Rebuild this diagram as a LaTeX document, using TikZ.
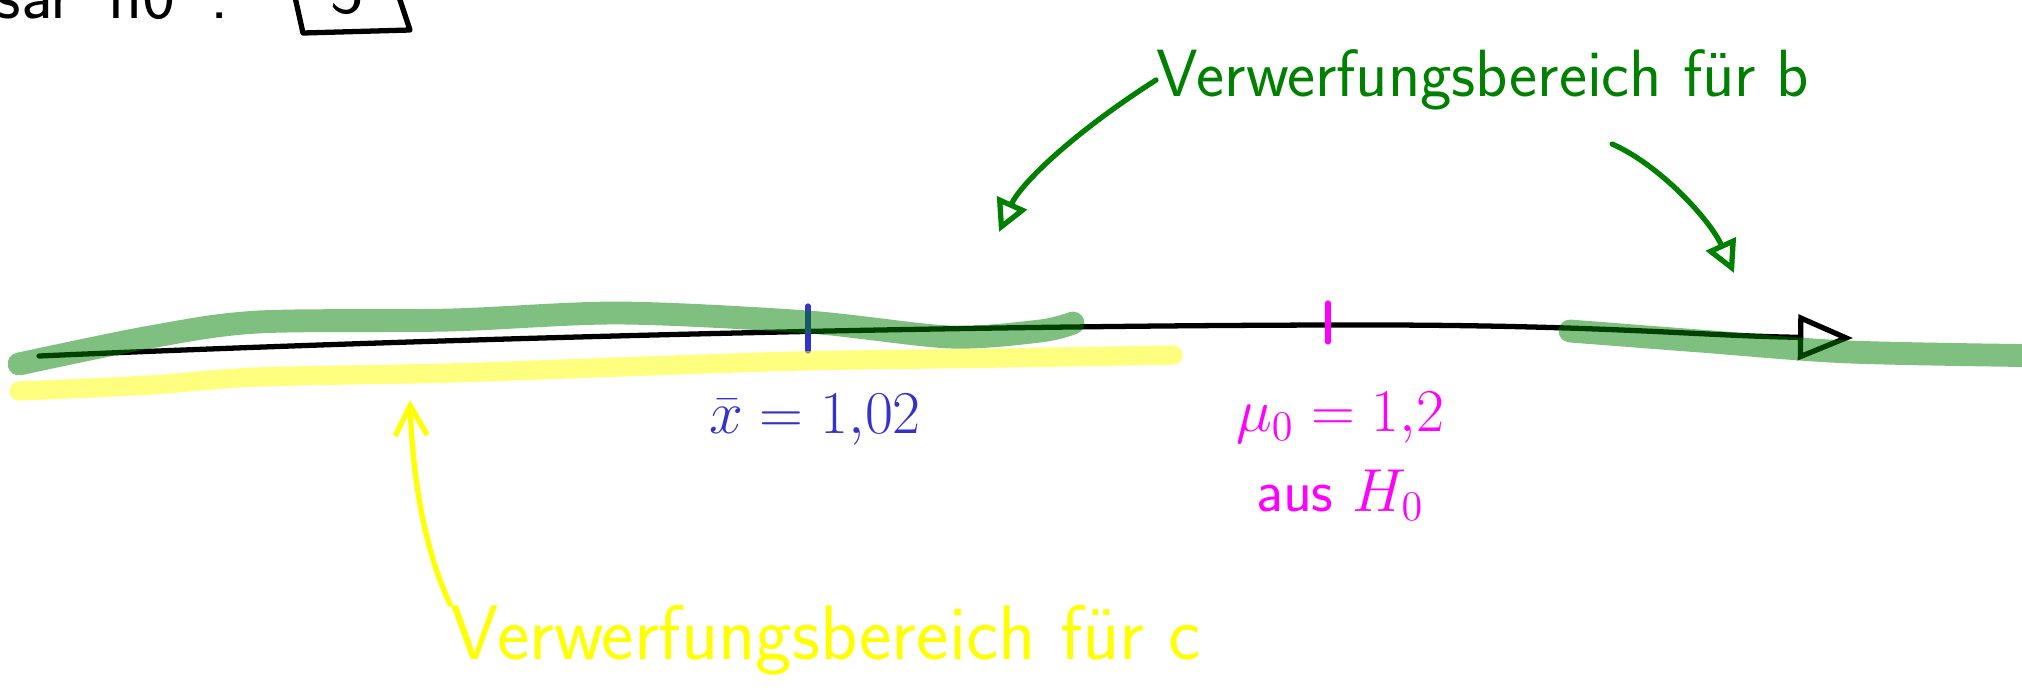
\documentclass[tikz,border=0pt]{standalone}
\usepackage{amsmath,amssymb}
\usepackage{tikz}
\usetikzlibrary{arrows.meta,positioning,calc}
\definecolor{pengreen}{RGB}{0,128,0}
\definecolor{penyellow}{RGB}{255,255,0}
\definecolor{penblue}{RGB}{51,51,204}
\definecolor{penmagenta}{RGB}{255,0,255}
\tikzset{
  pen/.style={line width=1.5pt, line cap=round, line join=round},
  marker/.style={line width=#1, line cap=round, opacity=0.5},
  hand/.style={font=\sffamily\fontsize{20}{22}\selectfont, inner sep=0pt},
  handlabel/.style={font=\sffamily\fontsize{17}{19}\selectfont, inner sep=0pt},
  openhead/.style={-{Triangle[open, length=3.2mm, width=3.2mm, line width=1.5pt]}},
}

\begin{document}
\begin{tikzpicture}[x=0.01cm, y=-0.01cm]
    \useasboundingbox (0,0) rectangle (2022,693);
    % cut-off line at the top
    \node[hand, anchor=base west] (topnote) at (-5,18) {sar\enspace n0\enspace:};
    \draw[pen] (293,-12) -- (303,33) -- (410,30) -- (396,-12);
    \node[hand, anchor=base] (boxed) at (347,13) {3};
    % number line
    \draw[pen, -{Triangle[open, length=5.5mm, width=4.5mm, line width=1.5pt]}]
      (39,356) .. controls (400,340) and (900,326) .. (1328,325)
      .. controls (1600,324) and (1700,336) .. (1853,338);
    \draw[pen, penblue] (808,306) -- (808,351);
    \draw[pen, penmagenta] (1328,303) -- (1328,342);
    % rejection regions
    \draw[marker=6.5pt, pengreen] plot[smooth] coordinates
      {(19,364) (150,337) (258,322) (450,320) (619,313) (808,322) (950,337) (1040,331) (1073,323)};
    \draw[marker=6.5pt, pengreen] plot[smooth] coordinates
      {(1570,331) (1700,341) (1850,352) (2060,356)};
    \draw[marker=5.5pt, penyellow] plot[smooth] coordinates
      {(19,391) (150,385) (258,377) (450,373) (619,367) (800,361) (1000,358) (1173,355)};
    % values
    \node[handlabel, penblue] (xbar) at (815,420) {$\bar{x}=1{,}02$};
    \node[handlabel, penmagenta] (muzero) at (1340,418) {$\mu_0=1{,}2$};
    \node[handlabel, penmagenta, below=22pt of muzero.center, anchor=center] (ausH) {aus $H_0$};
    % labels with arrows
    \node[hand, pengreen, font=\sffamily\fontsize{19}{21}\selectfont] (rejb) at (1483,80) {Verwerfungsbereich für b};
    \coordinate (tipL) at (999,232);
    \coordinate (tailR) at (1612,144);
    \coordinate (tipR) at (1734,273);
    \draw[pen, pengreen, openhead] (rejb.west) .. controls (1070,135) and (1020,185) .. (tipL);
    \draw[pen, pengreen, openhead] (tailR) .. controls (1660,165) and (1710,220) .. (tipR);
    \node[hand, penyellow, font=\sffamily\fontsize{22}{24}\selectfont] (rejc) at (826,640) {Verwerfungsbereich für c};
    \coordinate (tipY) at (410,400);
    \draw[pen, penyellow, -{Straight Barb[length=3mm, width=3.2mm, line width=1.5pt]}]
      (rejc.north west) .. controls (420,540) and (412,460) .. (tipY);
\end{tikzpicture}
\end{document}
